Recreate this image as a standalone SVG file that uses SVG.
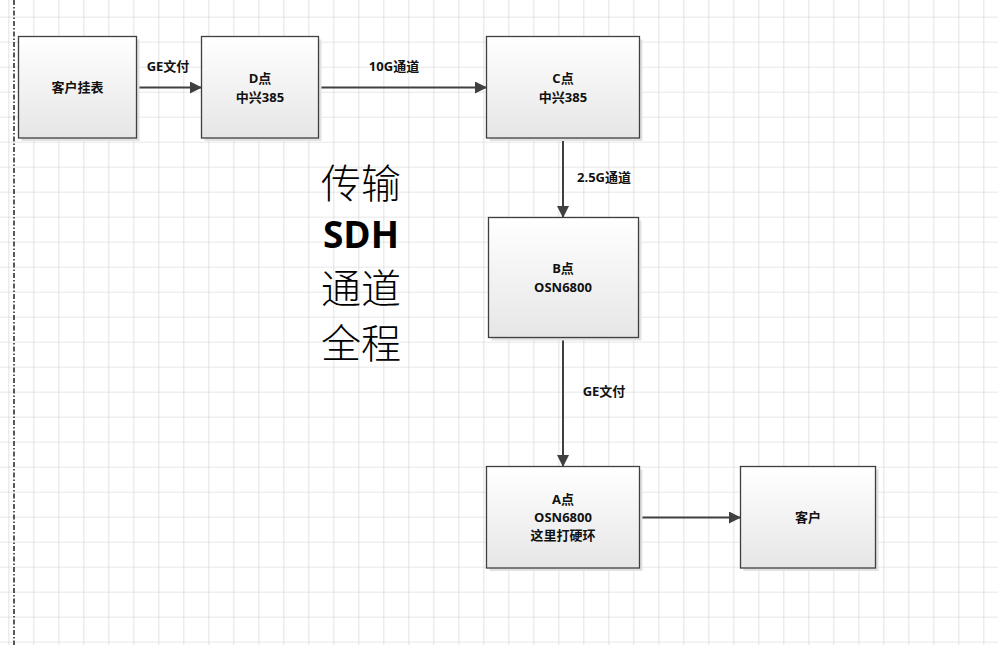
<svg xmlns="http://www.w3.org/2000/svg" width="998" height="645" viewBox="0 0 998 645">
<style>
.box{fill:url(#g);stroke:#3f3f3f;stroke-width:1.3}
.sh{fill:#e2e2e2}
.t{font-family:"Open Sans","Noto Sans CJK SC",sans-serif;font-size:13px;font-weight:bold;fill:#111;text-anchor:middle}
.c{stroke:#404040;stroke-width:2;fill:none;marker-end:url(#ah)}
.big{font-family:"Noto Sans CJK SC",sans-serif;font-size:40px;font-weight:300;fill:#000;text-anchor:middle}
.bigb{font-family:"Open Sans","Liberation Sans",sans-serif;font-size:37px;font-weight:bold;fill:#000;text-anchor:middle}
</style>
<defs>
<pattern id="grid" patternUnits="userSpaceOnUse" x="8.33" y="16.67" width="25" height="25">
<path d="M0 0H25M0 0V25" stroke="#cfcfcf" stroke-width="1.2" fill="none"/>
</pattern>
<linearGradient id="g" x1="0" y1="0" x2="0" y2="1">
<stop offset="0" stop-color="#ffffff"/>
<stop offset="1" stop-color="#e6e6e6"/>
</linearGradient>
<marker id="ah" markerWidth="12" markerHeight="12" refX="11" refY="6" orient="auto" markerUnits="userSpaceOnUse">
<path d="M0 0L12 6L0 12Z" fill="#404040"/>
</marker>
</defs>
<rect width="998" height="645" fill="#fff"/>
<rect width="998" height="645" fill="url(#grid)"/>
<line x1="14" y1="0" x2="14" y2="645" stroke="#000" stroke-width="1.3" stroke-dasharray="5,2,1.5,2"/>

<g id="connectors">
<line class="c" x1="137" y1="87.5" x2="201" y2="87.5"/>
<line class="c" x1="319" y1="87.5" x2="486" y2="87.5"/>
<line class="c" x1="563" y1="138" x2="563" y2="217"/>
<line class="c" x1="563" y1="337" x2="563" y2="466"/>
<line class="c" x1="639" y1="517.5" x2="740" y2="517.5"/>
<text class="t" x="168" y="71">GE文付</text>
<text class="t" x="394" y="71">10G通道</text>
<text class="t" x="604" y="182">2.5G通道</text>
<text class="t" x="604" y="396">GE文付</text>
</g>

<g id="n1">
<rect class="sh" x="21.5" y="39.5" width="118" height="101.5"/>
<rect class="box" x="18.5" y="36.5" width="118" height="101.5"/>
<text class="t" x="77.5" y="92">客户挂表</text>
</g>
<g id="nD">
<rect class="sh" x="204.5" y="39.5" width="117" height="101.5"/>
<rect class="box" x="201.5" y="36.5" width="117" height="101.5"/>
<text class="t" x="260" y="83">D点</text>
<text class="t" x="260" y="102">中兴385</text>
</g>
<g id="nC">
<rect class="sh" x="489.5" y="39.5" width="153" height="101.5"/>
<rect class="box" x="486.5" y="36.5" width="153" height="101.5"/>
<text class="t" x="563" y="83">C点</text>
<text class="t" x="563" y="102">中兴385</text>
</g>
<g id="nB">
<rect class="sh" x="491.5" y="220.5" width="150" height="120"/>
<rect class="box" x="488.5" y="217.5" width="150" height="120"/>
<text class="t" x="563" y="273">B点</text>
<text class="t" x="563" y="292">OSN6800</text>
</g>
<g id="nA">
<rect class="sh" x="489.5" y="469.5" width="153" height="101.5"/>
<rect class="box" x="486.5" y="466.5" width="153" height="101.5"/>
<text class="t" x="563" y="504">A点</text>
<text class="t" x="563" y="522">OSN6800</text>
<text class="t" x="563" y="540">这里打硬环</text>
</g>
<g id="nK">
<rect class="sh" x="743.5" y="469.5" width="135" height="101.5"/>
<rect class="box" x="740.5" y="466.5" width="135" height="101.5"/>
<text class="t" x="808" y="522">客户</text>
</g>

<g id="title">
<text class="big" x="361" y="198">传输</text>
<text class="bigb" x="361" y="248">SDH</text>
<text class="big" x="361" y="303">通道</text>
<text class="big" x="361" y="358">全程</text>
</g>
</svg>
